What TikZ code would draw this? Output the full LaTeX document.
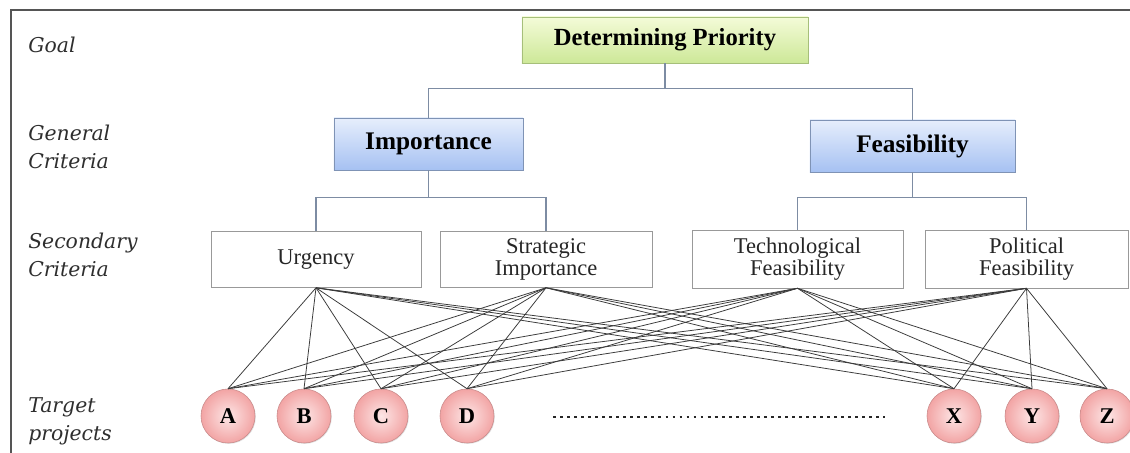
\documentclass[tikz,border=0pt]{standalone}
\usepackage{fontspec}
\setmainfont{Liberation Serif}
\newfontfamily\levelfont{DejaVu Serif}
\usetikzlibrary{shadows}

\definecolor{framegray}{HTML}{555555}
\definecolor{levelgray}{HTML}{2E2E2E}
\definecolor{treeline}{HTML}{7D8CA3}
\definecolor{linkgray}{HTML}{3A3A3A}
\definecolor{goaltop}{HTML}{F4FBD8}
\definecolor{goalbot}{HTML}{CDE898}
\definecolor{goaledge}{HTML}{A6BF7A}
\definecolor{crittop}{HTML}{E6EEFC}
\definecolor{critbot}{HTML}{A6C1F2}
\definecolor{critedge}{HTML}{7F93B5}
\definecolor{projin}{HTML}{FDE6E6}
\definecolor{projout}{HTML}{F2A4A4}
\definecolor{projedge}{HTML}{C98A8A}

\def\projrad{1.35cm}

\tikzset{
  level/.style={anchor=west, align=left, inner sep=0pt, text=levelgray,
    font=\levelfont\itshape\fontsize{14.5}{20}\selectfont},
  goalbox/.style={draw=goaledge, top color=goaltop, bottom color=goalbot,
    minimum width=7.15cm, minimum height=1.15cm, inner sep=0pt,
    font=\bfseries\fontsize{17.5}{20}\selectfont,
    drop shadow={shadow xshift=0.8pt, shadow yshift=-0.8pt, opacity=0.3}},
  genbox/.style={draw=critedge, top color=crittop, bottom color=critbot,
    minimum height=1.3cm, inner sep=0pt,
    font=\bfseries\fontsize{18}{20}\selectfont,
    drop shadow={shadow xshift=0.8pt, shadow yshift=-0.8pt, opacity=0.3}},
  secbox/.style={draw=gray!80, fill=white, minimum width=5.25cm,
    minimum height=1.4cm, inner sep=0pt, align=center, text=black!85,
    font=\fontsize{16}{16}\selectfont},
  proj/.style={circle, draw=projedge, inner color=projin, outer color=projout,
    minimum size=\projrad, inner sep=0pt,
    font=\bfseries\fontsize{16}{16}\selectfont,
    drop shadow={shadow xshift=0.6pt, shadow yshift=-0.6pt, opacity=0.25}},
  tree/.style={draw=treeline, line width=0.8pt},
  link/.style={draw=linkgray, line width=0.55pt}
}

\begin{document}
\begin{tikzpicture}[x=0.025cm, y=-0.025cm]
    \useasboundingbox (0,0) rectangle (1130,453);
    % frame
    \draw[framegray, line width=1.4pt] (11,453) -- (11,10) -- (1130,10);

    % level names
    \node[level] (lgoal) at (28,45) {Goal};
    \node[level] (lgen) at (28,147) {General\\Criteria};
    \node[level] (lsec) at (28,255) {Secondary\\Criteria};
    \node[level] (lproj) at (28,421) {Target\\projects};

    % goal
    \node[goalbox] (goal) at (665,40) {Determining Priority};

    % general criteria
    \node[genbox, minimum width=4.725cm] (imp) at (428.5,144) {Importance};
    \node[genbox, minimum width=5.125cm] (feas) at (912.5,146) {Feasibility};

    % secondary criteria
    \node[secbox] (urg) at (316,259.5) {Urgency};
    \node[secbox, minimum width=5.3cm] (strat) at (546,259.5) {Strategic\\Importance};
    \node[secbox, minimum width=5.275cm, minimum height=1.45cm] (tech) at (797.5,259) {Technological\\Feasibility};
    \node[secbox, minimum width=5.075cm, minimum height=1.45cm] (pol) at (1026.5,259) {Political\\Feasibility};

    % target projects
    \foreach \p/\x in {A/228,B/304,C/381,D/467,X/954,Y/1032,Z/1107}
        \node[proj] (\p) at (\x,416) {\p};
    \draw[black!85, line width=2pt, dash pattern=on 2pt off 3pt] (553,417) -- (885,417);

    % hierarchy
    \draw[tree] (goal.south) -- ++(0,25) -| (imp.north);
    \draw[tree] (goal.south) -- ++(0,25) -| (feas.north);
    \draw[tree] (imp.south) -- ++(0,27) -| (urg.north);
    \draw[tree] (imp.south) -- ++(0,27) -| (strat.north);
    \draw[tree] (feas.south) -- ++(0,25) -| (tech.north);
    \draw[tree] (feas.south) -- ++(0,25) -| (pol.north);

    % every secondary criterion to every project
    \foreach \s in {urg,strat,tech,pol}
        \foreach \p in {A,B,C,D,X,Y,Z}
            \draw[link] (\s.south) -- (\p.north);
\end{tikzpicture}
\end{document}
